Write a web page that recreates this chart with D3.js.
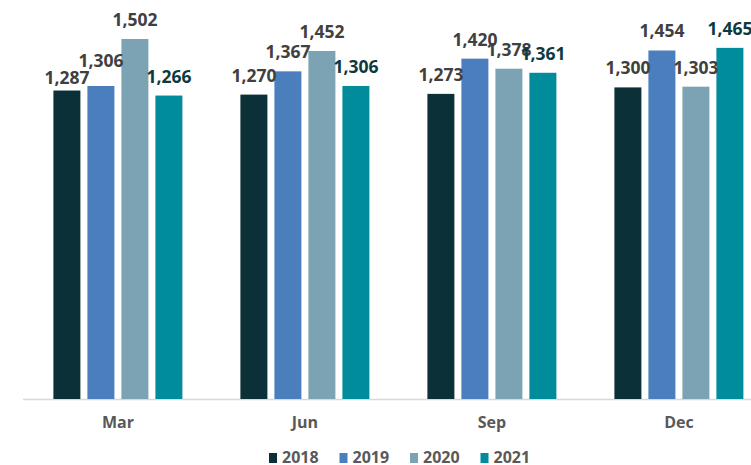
<!DOCTYPE html>
<html>
<head>
<meta charset="utf-8">
<script src="https://cdn.jsdelivr.net/npm/d3@7"></script>
<style>
  html, body { margin: 0; padding: 0; background: #fff; }
  svg { display: block; font-family: "Open Sans", sans-serif; }
</style>
</head>
<body>
<svg id="chart" width="751" height="465"></svg>
<script>
'use strict';

var months = ['Mar', 'Jun', 'Sep', 'Dec'];
var years = ['2018', '2019', '2020', '2021'];
var values2018 = [1287, 1270, 1273, 1300];
var values2019 = [1306, 1367, 1420, 1454];
var values2020 = [1502, 1452, 1378, 1303];
var values2021 = [1266, 1306, 1361, 1465];

var seriesValues = [values2018, values2019, values2020, values2021];
var colors = ['#0b3038', '#4a7ebd', '#7ca3b3', '#008c9b'];
var labelColors = ['#404040', '#404040', '#404040', '#0d3a40'];

// labels moved by hand in the original to keep them apart
var labelNudge = { 'Mar-2018': 6, 'Mar-2019': -6 };

var svg = d3.select('#chart');

var x0 = d3.scaleBand()
    .domain(months)
    .range([24.4, 772.4])
    .padding(0);

var x1 = d3.scaleBand()
    .domain(years)
    .range([0, x0.bandwidth()])
    .paddingInner(0.206)
    .paddingOuter(0.853);

var y = d3.scaleLinear()
    .domain([0, 1600])
    .range([399, 15.5]);

var data = [];
months.forEach(function(m, i) {
    years.forEach(function(yr, j) {
        data.push({ month: m, year: yr, value: seriesValues[j][i], s: j });
    });
});

// baseline
svg.append('line')
    .attr('x1', 23)
    .attr('x2', 751)
    .attr('y1', y(0) + 0.5)
    .attr('y2', y(0) + 0.5)
    .attr('stroke', '#d9d9d9')
    .attr('stroke-width', 1.5);

svg.append('g').selectAll('rect')
    .data(data)
    .enter().append('rect')
    .attr('x', function(d) { return x0(d.month) + x1(d.year); })
    .attr('width', x1.bandwidth())
    .attr('y', function(d) { return y(d.value); })
    .attr('height', function(d) { return y(0) - y(d.value); })
    .attr('fill', function(d) { return colors[d.s]; });

svg.append('g').selectAll('text')
    .data(data)
    .enter().append('text')
    .attr('x', function(d) { return x0(d.month) + x1(d.year) + x1.bandwidth() / 2; })
    .attr('y', function(d) {
        return y(d.value) - 13 + (labelNudge[d.month + '-' + d.year] || 0);
    })
    .attr('text-anchor', 'middle')
    .attr('font-size', '17.5px')
    .attr('font-weight', 700)
    .attr('fill', function(d) { return labelColors[d.s]; })
    .text(function(d) { return d3.format(',')(d.value); });

// month labels
svg.append('g').selectAll('text')
    .data(months)
    .enter().append('text')
    .attr('x', function(d) { return x0(d) + x0.bandwidth() / 2; })
    .attr('y', 428)
    .attr('text-anchor', 'middle')
    .attr('font-size', '16px')
    .attr('font-weight', 700)
    .attr('fill', '#595959')
    .text(function(d) { return d; });

// legend
var legend = svg.append('g').selectAll('g')
    .data(years)
    .enter().append('g')
    .attr('transform', function(d, i) { return 'translate(' + (269 + i * 70.5) + ',0)'; });

legend.append('rect')
    .attr('x', 0)
    .attr('y', 453)
    .attr('width', 8)
    .attr('height', 10)
    .attr('fill', function(d, i) { return colors[i]; });

legend.append('text')
    .attr('x', 13)
    .attr('y', 462.5)
    .attr('font-size', '16px')
    .attr('font-weight', 700)
    .attr('fill', '#595959')
    .text(function(d) { return d; });
</script>
</body>
</html>
